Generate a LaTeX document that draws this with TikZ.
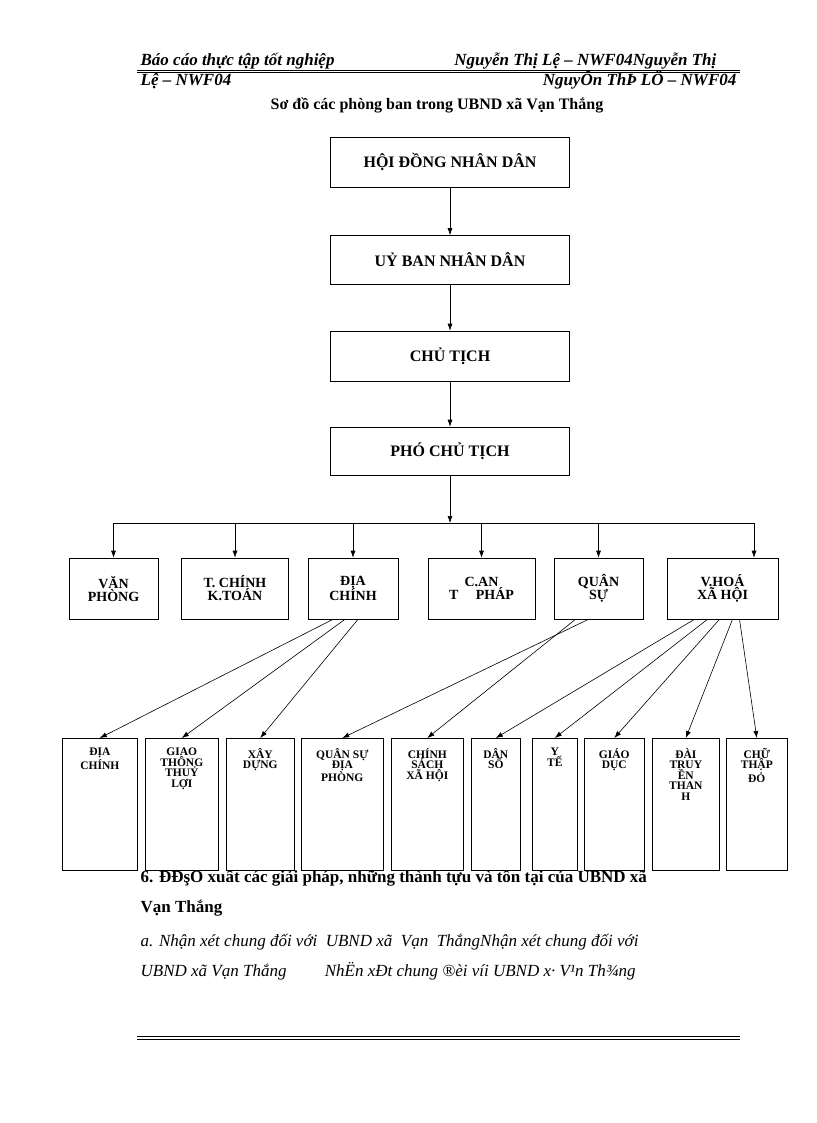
\documentclass[tikz,border=0pt]{standalone}
\usepackage{fontspec}
\setmainfont{Liberation Serif}
\usetikzlibrary{arrows.meta,positioning}
\begin{document}
\begin{tikzpicture}[x=1pt, y=-1pt, >={Latex[length=7pt,width=5pt]}, semithick,
  box/.style={draw, fill=white, inner sep=1pt, font=\fontsize{16}{16}\selectfont\bfseries},
  dept/.style={box, align=center, font=\fontsize{14}{13}\selectfont\bfseries},
  unit/.style={draw, fill=white, anchor=north west, inner sep=0pt, minimum height=132pt},
  utext/.style={anchor=north, align=center, inner sep=0pt, yshift=-10pt,
    font=\fontsize{11.5}{10.5}\selectfont\bfseries},
  head/.style={font=\fontsize{17}{17}\selectfont\bfseries\itshape}]
  \useasboundingbox[fill=white] (0,0) rectangle (816,1123);
  % Kopfzeile
  \node[head, anchor=base west] (hl1) at (137,66) {Báo cáo thực tập tốt nghiệp};
  \node[head, anchor=base east] (hr1) at (720,66) {Nguyễn Thị Lệ – NWF04Nguyễn Thị};
  \node[head, anchor=base west] (hl2) at (137,86) {Lệ – NWF04};
  \node[head, anchor=base east] (hr2) at (740,86) {NguyÔn ThÞ LÖ – NWF04};
  \draw (137,70) -- (740,70);
  \draw (137,72) -- (740,72);
  \node[font=\fontsize{16}{16}\selectfont\bfseries] (title) at (437,105) {Sơ đồ các phòng ban trong UBND xã Vạn Thắng};

  % Text unter dem Diagramm
  \node[anchor=base west, font=\fontsize{17}{17}\selectfont\bfseries] (sec) at (137,882) {6. ĐĐşO xuất các giải pháp, những thành tựu và tồn tại của UBND xã};
  \node[anchor=base west, font=\fontsize{17}{17}\selectfont\bfseries] (sec2) at (137,912) {Vạn Thắng};
  \node[anchor=base west, font=\fontsize{17}{17}\selectfont\itshape] (par1) at (137,946) {a. Nhận xét chung đối với \ UBND xã \ Vạn \ ThắngNhận xét chung đối với};
  \node[anchor=base west, font=\fontsize{17}{17}\selectfont\itshape] (par2) at (137,976) {UBND xã Vạn Thắng \qquad NhËn xÐt chung ®èi víi UBND x· V¹n Th¾ng};
  \draw (137,1036) -- (740,1036);
  \draw (137,1039.5) -- (740,1039.5);

  % Leitung
  \node[box, minimum width=239pt, minimum height=50pt] (hdnd) at (450,162) {HỘI ĐỒNG NHÂN DÂN};
  \node[box, minimum width=239pt, minimum height=49pt] (ubnd) at (450,260) {UỶ BAN NHÂN DÂN};
  \node[box, minimum width=239pt, minimum height=50pt] (ct) at (450,356) {CHỦ TỊCH};
  \node[box, minimum width=239pt, minimum height=48pt] (pct) at (450,451) {PHÓ CHỦ TỊCH};
  \draw[->] (hdnd) -- (ubnd);
  \draw[->] (ubnd) -- (ct);
  \draw[->] (ct) -- (pct);
  \coordinate (bus) at (450,523);
  \coordinate (busend) at (754,523);
  \draw[->] (pct) -- (bus);

  % Abteilungen
  \node[dept, minimum width=89pt, minimum height=61pt] (vp) at (113.5,588.5) {VĂN\\PHÒNG};
  \node[dept, minimum width=107pt, minimum height=61pt] (tc) at (235,588.5) {T. CHÍNH\\K.TOÁN};
  \node[dept, minimum width=90pt, minimum height=61pt] (dc) at (353,588.5) {ĐỊA\\CHÍNH};
  \node[dept, minimum width=107pt, minimum height=61pt] (ca) at (481.5,588.5) {C.AN\\T \quad PHÁP};
  \node[dept, minimum width=89pt, minimum height=61pt] (qs) at (598.5,588.5) {QUÂN\\SỰ};
  \node[dept, minimum width=111pt, minimum height=61pt] (vh) at (722.5,588.5) {V.HOÁ\\XÃ HỘI};
  \draw (bus -| vp.north) -- (busend);
  \foreach \d in {vp, tc, dc, ca, qs} \draw[->] (bus -| \d.north) -- (\d.north);
  \draw[->] (busend) -- (busend |- vh.north);

  % Unterabteilungen
  \foreach \name/\xa/\xb/\txt in {
      dcb/62/137/{ĐỊA\\CHÍNH}, gt/145/218/{GIAO\\THÔNG\\THUỶ\\LỢI},
      xd/226/294/{XÂY\\DỰNG}, qsdp/301/383/{QUÂN SỰ\\ĐỊA\\PHÒNG},
      cs/391/463/{CHÍNH\\SÁCH\\XÃ HỘI}, ds/471/520/{DÂN\\SỐ},
      yt/532/577/{Y\\TẾ}, gd/584/644/{GIÁO\\DỤC},
      dt/652/719/{ĐÀI\\TRUY\\ỀN\\THAN\\H}, ctd/726/787/{CHỮ\\THẬP\\ĐỎ}}
    \node[unit, minimum width={\xb-\xa}, label={[utext]north:\txt}] (\name) at (\xa,738) {};
  \draw[->] ([xshift=-20pt]dc.south) -- (dcb.north);
  \draw[->] ([xshift=-8pt]dc.south) -- (gt.north);
  \draw[->] ([xshift=5pt]dc.south) -- (xd.north);
  \draw[->] ([xshift=-10pt]qs.south) -- (qsdp.north);
  \draw[->] ([xshift=-23pt]qs.south) -- (cs.north);
  \draw[->] ([xshift=-28pt]vh.south) -- (ds.north);
  \draw[->] ([xshift=-15pt]vh.south) -- (yt.north);
  \draw[->] ([xshift=-3pt]vh.south) -- (gd.north);
  \draw[->] ([xshift=10pt]vh.south) -- (dt.north);
  \draw[->] ([xshift=17pt]vh.south) -- (ctd.north);
\end{tikzpicture}
\end{document}
